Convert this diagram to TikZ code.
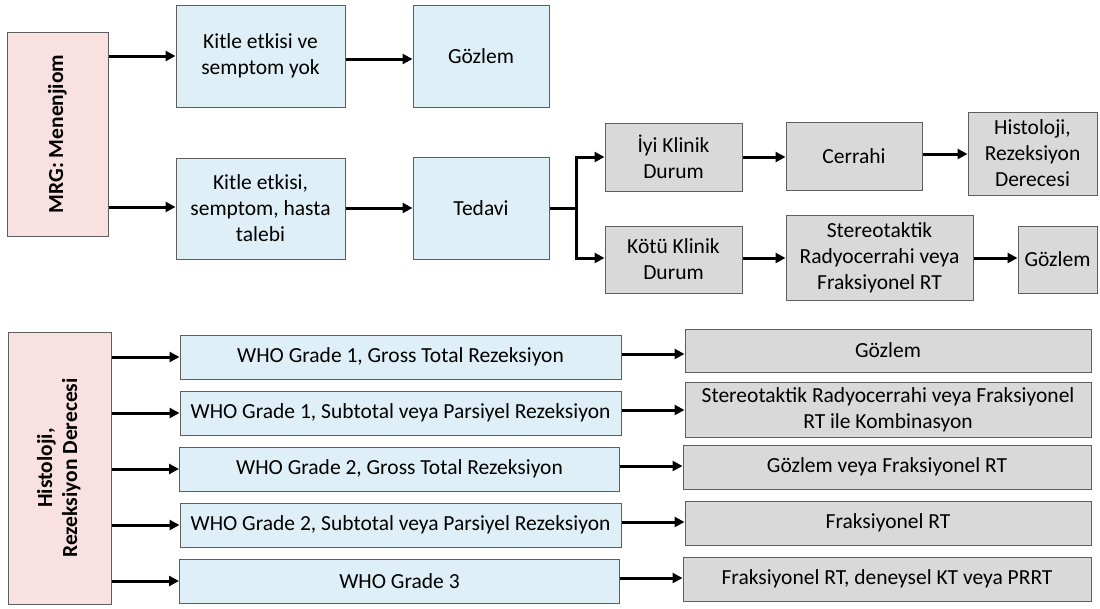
\documentclass[tikz,border=0pt]{standalone}
\usepackage{fontspec}
\setmainfont{Carlito}
\usetikzlibrary{arrows.meta}
\definecolor{pinkfill}{HTML}{F8E1E0}
\definecolor{bluefill}{HTML}{DEEFF7}
\definecolor{grayfill}{HTML}{D9D9D9}
\definecolor{edgegray}{HTML}{5E5E5E}
\tikzset{
  box/.style={draw=edgegray, line width=1pt, inner sep=0pt, align=center,
    font=\fontsize{21.5}{26}\selectfont},
  pinkbox/.style={box, fill=pinkfill, font=\bfseries\fontsize{21.5}{25}\selectfont},
  bluebox/.style={box, fill=bluefill},
  graybox/.style={box, fill=grayfill},
  arr/.style={line width=3pt, -{Triangle[length=10pt,width=10pt]}},
  link/.style={line width=3pt},
}
\begin{document}
\begin{tikzpicture}[x=1pt, y=-1pt]
\useasboundingbox (0,0) rectangle (1100,608);

% ---------- upper flow: MRG ----------
\node[pinkbox, minimum width=101pt, minimum height=204pt] (mrg) at (57.5,134)
  {\rotatebox{90}{MRG: Menenjiom}};
\node[bluebox, minimum width=169pt, minimum height=102pt] (k1) at (260.5,56)
  {Kitle etkisi ve\\semptom yok};
\node[bluebox, minimum width=136pt, minimum height=102pt] (g1) at (481,56) {Gözlem};
\node[bluebox, minimum width=169pt, minimum height=101pt] (k2) at (260.5,208.5)
  {Kitle etkisi,\\semptom, hasta\\talebi};
\node[bluebox, minimum width=136pt, minimum height=102pt] (ted) at (481,208) {Tedavi};
\node[graybox, minimum width=137pt, minimum height=68pt] (iyi) at (673.5,157)
  {İyi Klinik\\Durum};
\node[graybox, minimum width=137pt, minimum height=67pt] (kotu) at (673.5,259.5)
  {Kötü Klinik\\Durum};
\node[graybox, minimum width=136pt, minimum height=68pt] (cer) at (854,156) {Cerrahi};
\node[graybox, minimum width=129pt, minimum height=83pt] (hist) at (1032.5,153.5)
  {Histoloji,\\Rezeksiyon\\Derecesi};
\node[graybox, minimum width=187pt, minimum height=85pt] (ster) at (879.5,257.5)
  {Stereotaktik\\Radyocerrahi veya\\Fraksiyonel RT};
\node[graybox, minimum width=79pt, minimum height=67pt] (g2) at (1057.5,259.5) {Gözlem};

\draw[arr] (mrg.east |- k1.west) -- (k1.west);
\draw[arr] ([yshift=1.5pt]mrg.east |- k2.west) -- ([yshift=1.5pt]k2.west);
\draw[arr] ([yshift=-3pt]k1.east) -- ([yshift=-3pt]k1.east -| g1.west);
\draw[arr] (ted.west -| k2.east) -- (ted.west);
\coordinate (br) at (576,208);
\draw[link] (ted.east) -- (br);
\draw[arr] (br) |- (iyi.west);
\draw[arr] (br) |- ([yshift=1.5pt]kotu.west);
\draw[arr] (iyi.east) -- (iyi.east -| cer.west);
\draw[arr] ([yshift=2pt]cer.east) -- ([yshift=2pt]cer.east -| hist.west);
\draw[arr] ([yshift=1.5pt]kotu.east) -- ([yshift=1.5pt]kotu.east -| ster.west);
\draw[arr] ([yshift=1.5pt]ster.east |- kotu.east) -- ([yshift=1.5pt]g2.west);

% ---------- lower flow: histology and resection ----------
\node[pinkbox, minimum width=103pt, minimum height=272pt] (hr) at (59.5,468)
  {\rotatebox{90}{\begin{tabular}{@{}c@{}}Histoloji,\\Rezeksiyon Derecesi\end{tabular}}};

\node[bluebox, minimum width=441pt, minimum height=44pt] (w1) at (400.5,357)
  {WHO Grade 1, Gross Total Rezeksiyon};
\node[bluebox, minimum width=441pt, minimum height=44pt] (w2) at (400.5,413)
  {WHO Grade 1, Subtotal veya Parsiyel Rezeksiyon};
\node[bluebox, minimum width=440pt, minimum height=44pt] (w3) at (399.5,469)
  {WHO Grade 2, Gross Total Rezeksiyon};
\node[bluebox, minimum width=441pt, minimum height=44pt] (w4) at (400.5,525)
  {WHO Grade 2, Subtotal veya Parsiyel Rezeksiyon};
\node[bluebox, minimum width=440pt, minimum height=44pt] (w5) at (399.5,581)
  {WHO Grade 3};

\node[graybox, minimum width=406pt, minimum height=43pt] (r1) at (888,350.5) {Gözlem};
\node[graybox, minimum width=406pt, minimum height=55pt] (r2) at (888,409.5)
  {Stereotaktik Radyocerrahi veya Fraksiyonel\\RT ile Kombinasyon};
\node[graybox, minimum width=408pt, minimum height=44pt] (r3) at (887,467)
  {Gözlem veya Fraksiyonel RT};
\node[graybox, minimum width=406pt, minimum height=44pt] (r4) at (888,523) {Fraksiyonel RT};
\node[graybox, minimum width=408pt, minimum height=44pt] (r5) at (887,579)
  {Fraksiyonel RT, deneysel KT veya PRRT};

\foreach \n in {1,...,5}{
  \draw[arr] (hr.east |- w\n.west) -- (w\n.west);
  \draw[arr] ([yshift=3pt]w\n.east) -- ([yshift=3pt]w\n.east -| r\n.west);
}
\end{tikzpicture}
\end{document}
